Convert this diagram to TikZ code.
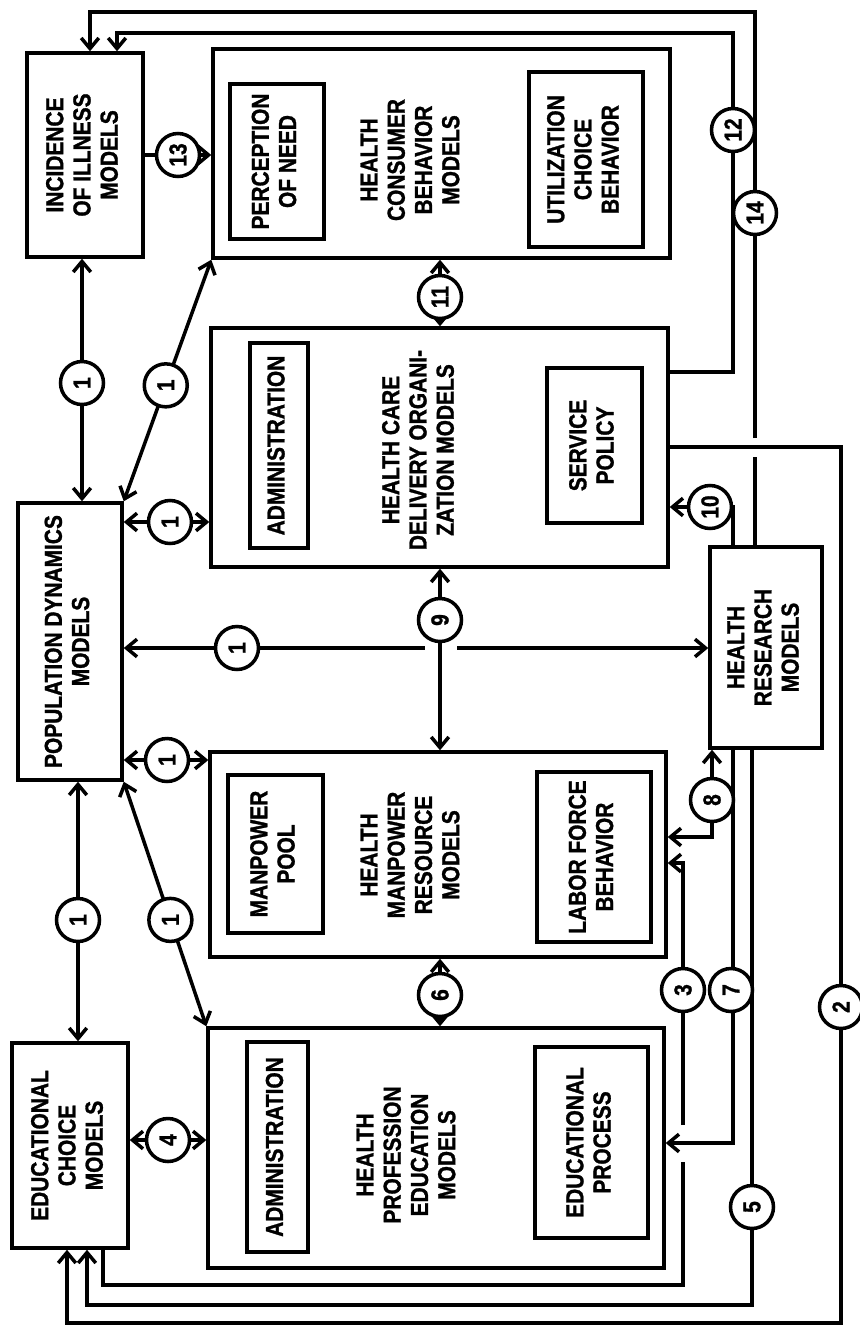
\documentclass[tikz,border=0pt]{standalone}
\usepackage{fontspec}
\newfontfamily\lbl[FakeStretch=0.85,BoldFeatures={FakeBold=1.2}]{Liberation Sans}
\usetikzlibrary{arrows.meta,calc}
\pgfdeclarelayer{bg}
\pgfdeclarelayer{lines}
\pgfsetlayers{bg,lines,main}
\newcommand\vtext[1]{\rotatebox{90}{\begin{tabular}{@{}c@{}}#1\end{tabular}}}
\begin{document}
\begin{tikzpicture}[x=0.02cm,y=-0.02cm,
  every node/.style={font=\lbl\bfseries\fontsize{14}{15.5}\selectfont},
  box/.style={draw, line width=2pt, inner sep=0pt},
  num/.style={circle, draw, line width=2pt, fill=white, minimum size=0.86cm, inner sep=0pt, rotate=90},
  conn/.style={line width=2pt},
  >={Straight Barb[length=6pt,width=10pt]}]
\useasboundingbox (0,0) rectangle (859,1329);
\begin{pgfonlayer}{bg}
\fill[white] (0,0) rectangle (859,1329);
\end{pgfonlayer}

% boxes
\node[box, minimum width=2.32cm, minimum height=4.08cm] (inc) at (85,155) {\vtext{INCIDENCE\\OF ILLNESS\\MODELS}};
\node[box, minimum width=9.14cm, minimum height=4.18cm] (cons) at (441.5,153.5) {};
\node[box, minimum width=1.88cm, minimum height=3.10cm] (pon) at (277,161.5) {\vtext{PERCEPTION\\OF NEED}};
\node[box, minimum width=2.28cm, minimum height=3.50cm] (ucb) at (586,159.5) {\vtext{UTILIZATION\\CHOICE\\BEHAVIOR}};
\node[rotate=90, align=center] (cons-t) at (410,160) {HEALTH\\CONSUMER\\BEHAVIOR\\MODELS};

\node[box, minimum width=9.14cm, minimum height=4.78cm] (hcd) at (439.5,447.5) {};
\node[box, minimum width=1.16cm, minimum height=4.10cm] (adm1) at (279,445.5) {\vtext{ADMINISTRATION}};
\node[box, minimum width=1.90cm, minimum height=3.10cm] (sp) at (594.5,445.5) {\vtext{SERVICE\\POLICY}};
\node[rotate=90, align=center] (hcd-t) at (418,450) {HEALTH CARE\\DELIVERY ORGANI-\\ZATION MODELS};

\node[box, minimum width=2.08cm, minimum height=5.54cm] (pop) at (70,641.5) {\vtext{POPULATION DYNAMICS\\MODELS}};

\node[box, minimum width=9.12cm, minimum height=4.10cm] (hmr) at (438,854.5) {};
\node[box, minimum width=1.90cm, minimum height=3.16cm] (mp) at (275.5,854) {\vtext{MANPOWER\\POOL}};
\node[box, minimum width=2.28cm, minimum height=3.40cm] (lfb) at (594,857) {\vtext{LABOR FORCE\\BEHAVIOR}};
\node[rotate=90, align=center] (hmr-t) at (410,855) {HEALTH\\MANPOWER\\RESOURCE\\MODELS};

\node[box, minimum width=9.12cm, minimum height=4.80cm] (hpe) at (436,1148) {};
\node[box, minimum width=1.22cm, minimum height=4.20cm] (adm2) at (277.5,1147) {\vtext{ADMINISTRATION}};
\node[box, minimum width=2.26cm, minimum height=3.82cm] (ep) at (591.5,1142.5) {\vtext{EDUCATIONAL\\PROCESS}};
\node[rotate=90, align=center] (hpe-t) at (406,1155) {HEALTH\\PROFESSION\\EDUCATION\\MODELS};

\node[box, minimum width=2.32cm, minimum height=4.10cm] (ecm) at (70,1145.5) {\vtext{EDUCATIONAL\\CHOICE\\MODELS}};
\node[box, minimum width=2.24cm, minimum height=4.02cm] (hrm) at (766,647.5) {\vtext{HEALTH\\RESEARCH\\MODELS}};

% numbered circles
\node[num] (n1a) at (82,383) {1};
\node[num] (n1b) at ($(pop.north east)!0.48!(cons.south west)$) {1};
\node[num] (n1c) at (170,522) {1};
\node[num] (n1d) at (237,648) {1};
\node[num] (n1e) at (167,760) {1};
\node[num] (n1f) at (78,920) {1};
\node[num] (n1g) at ($(pop.south east)!0.565!(hpe.north west)$) {1};
\node[num] (n2) at (841,1007) {2};
\node[num] (n3) at (683,990) {3};
\node[num] (n4) at (168,1140) {4};
\node[num] (n5) at (752,1207) {5};
\node[num] (n6) at (440,995) {6};
\node[num] (n7) at (731,990) {7};
\node[num] (n8) at (712,800) {8};
\node[num] (n9) at (440,620) {9};
\node[num] (n10) at (710,507) {10};
\node[num] (n11) at (440,297) {11};
\node[num] (n12) at (733,130) {12};
\node[num] (n13) at (178,155) {13};
\node[num] (n14) at (755,213) {14};

% routing points
\coordinate (k12a) at (733,372);
\coordinate (k12b) at (117,33);
\coordinate (k14a) at (755,12);
\coordinate (k14b) at (90,12);
\coordinate (g14a) at (755,457);
\coordinate (g14b) at (755,438);
\coordinate (k2a) at (841,447);
\coordinate (k2b) at (841,1323);
\coordinate (k2c) at (67,1323);
\coordinate (k5a) at (752,1305);
\coordinate (k5b) at (87,1305);
\coordinate (k3a) at (103,1285);
\coordinate (k3b) at (683,1285);
\coordinate (g3a) at (683,1162);
\coordinate (g3b) at (683,1125);
\coordinate (k3c) at (683,863);
\coordinate (k7a) at (733,1143);
\coordinate (k10) at (733,507);
\coordinate (k8) at (712,837);
\coordinate (g1a) at (425,648);
\coordinate (g1b) at (457,648);

\begin{pgfonlayer}{lines}
\draw[conn,<->] (inc.south -| n1a) -- (pop.north -| n1a);
\draw[conn,<->] (pop.north east) -- (cons.south west);
\draw[conn,<->] (pop.east |- n1c) -- (hcd.west |- n1c);
\draw[conn,<-] (pop.east |- n1d) -- (g1a);
\draw[conn,->] (g1b) -- (hrm.west |- n1d);
\draw[conn,<->] (pop.east |- n1e) -- (hmr.west |- n1e);
\draw[conn,<->] (pop.south -| n1f) -- (ecm.north -| n1f);
\draw[conn,<->] (pop.south east) -- (hpe.north west);
\draw[conn,<->] (ecm.east |- n4) -- (hpe.west |- n4);
\draw[conn,<->] (hmr.south -| n6) -- (hpe.north -| n6);
\draw[conn,<->] (hcd.south -| n9) -- (hmr.north -| n9);
\draw[conn,<->] (cons.south -| n11) -- (hcd.north -| n11);
\draw[conn,->] (inc.east |- n13) -- (cons.west |- n13);
\draw[conn,->] (hcd.east |- k12a) -- (k12a) |- (k12b) -- (inc.north -| k12b);
\draw[conn] (hrm.north -| k14a) -- (g14a);
\draw[conn,->] (g14b) -- (k14a) -- (k14b) -- (inc.north -| k14b);
\draw[conn,->] (hrm.north -| k10) -- (k10) -- (hcd.east |- k10);
\draw[conn,->] (hcd.east |- k2a) -- (k2a) -- (k2b) -- (k2c) -- (ecm.south -| k2c);
\draw[conn,->] (hrm.south -| k5a) -- (k5a) -- (k5b) -- (ecm.south -| k5b);
\draw[conn] (ecm.south -| k3a) -- (k3a) -- (k3b) -- (g3a);
\draw[conn,->] (g3b) -- (k3c) -- (hmr.east |- k3c);
\draw[conn,->] (hrm.south -| k7a) -- (k7a) -- (hpe.east |- k7a);
\draw[conn,<->] (hrm.south -| k8) -- (k8) -- (hmr.east |- k8);
\end{pgfonlayer}
\end{tikzpicture}
\end{document}
